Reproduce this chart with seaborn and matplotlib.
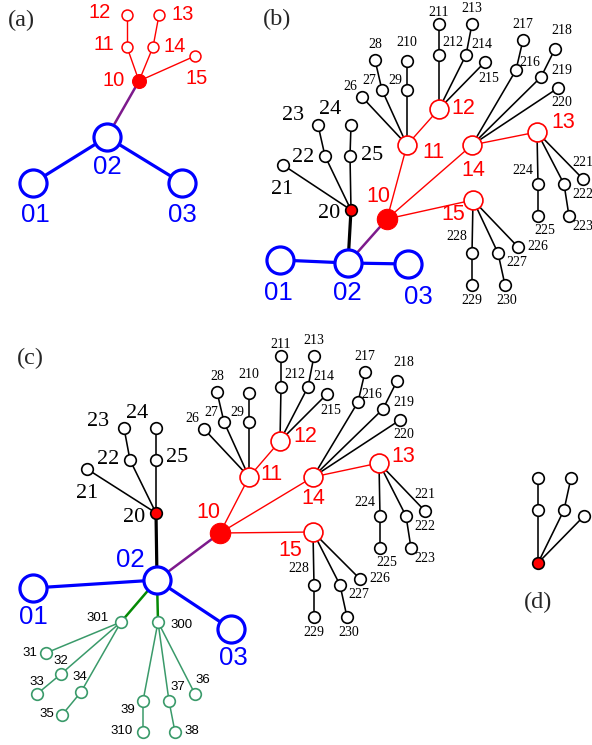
import matplotlib
matplotlib.use("Agg")
import matplotlib.pyplot as plt
import seaborn as sns
from matplotlib.collections import LineCollection

sns.set_style("white")

# --- panel (a) ---
a_names = ['01', '02', '03', '10', '11', '12', '13', '14', '15']
a_x = [33, 107, 182, 139, 127, 127, 159, 153, 195]
a_y = [183, 137, 183, 81, 47, 15, 15, 47, 56]
a_kind = ['blue', 'blue', 'blue', 'red_fill_s', 'red_s', 'red_s', 'red_s', 'red_s', 'red_s']
a_lx = [35, 107, 182, 114, 104, 100, 183, 175, 197]
a_ly = [215, 167, 215, 80, 45, 13, 15, 47, 78]
a_edges = [('01', '02'), ('02', '03'), ('02', '10'), ('10', '11'), ('11', '12'),
           ('10', '14'), ('14', '13'), ('10', '15')]

# --- panel (b) ---
b_names = ['01', '02', '03', '20', '21', '22', '23', '24', '25',
           '10', '11', '12', '13', '14', '15',
           '26', '27', '28', '29', '210', '211', '212', '213', '214', '215',
           '216', '217', '218', '219', '220', '221', '222', '223', '224', '225',
           '226', '227', '228', '229', '230']
b_x = [280, 348, 408, 351, 283, 325, 318, 351, 350,
       387, 407, 439, 537, 472, 473,
       362, 382, 375, 407, 407, 439, 439, 472, 466, 485,
       516, 523, 555, 541, 558, 583, 564, 569, 538, 538,
       518, 498, 472, 472, 505]
b_y = [260, 263, 264, 210, 165, 156, 125, 125, 156,
       219, 145, 109, 132, 145, 200,
       97, 90, 60, 90, 61, 24, 55, 24, 55, 62,
       70, 40, 49, 77, 88, 179, 184, 216, 184, 216,
       247, 253, 253, 285, 285]
b_kind = ['blue', 'blue', 'blue', 'red_black', 'black', 'black', 'black', 'black', 'black',
          'red_fill', 'red', 'red', 'red', 'red', 'red'] + ['black'] * 25
b_lx = [278, 347, 418, 329, 282, 303, 293, 330, 372,
        378, 433, 463, 563, 473, 453,
        350, 369, 375, 395, 407, 439, 453, 472, 482, 489,
        530, 523, 562, 562, 562, 583, 583, 583, 523, 545,
        538, 517, 457, 472, 507]
b_ly = [293, 293, 297, 213, 189, 157, 115, 110, 156,
        197, 153, 109, 123, 170, 215,
        86, 80, 44, 80, 43, 12, 42, 8, 45, 78,
        62, 24, 31, 70, 102, 162, 195, 227, 171, 230,
        246, 263, 236, 300, 300]
tree_edges = [('20', '21'), ('20', '22'), ('22', '23'), ('20', '25'), ('25', '24'),
              ('10', '11'), ('10', '14'), ('10', '15'), ('11', '12'), ('14', '13'),
              ('11', '26'), ('11', '27'), ('27', '28'), ('11', '29'), ('29', '210'),
              ('12', '212'), ('212', '211'), ('12', '214'), ('214', '213'), ('12', '215'),
              ('14', '216'), ('216', '217'), ('14', '219'), ('219', '218'), ('14', '220'),
              ('13', '221'), ('13', '222'), ('222', '223'), ('13', '224'), ('224', '225'),
              ('15', '226'), ('15', '227'), ('227', '230'), ('15', '228'), ('228', '229')]
b_edges = [('01', '02'), ('02', '03'), ('02', '20'), ('02', '10')] + tree_edges

# --- panel (c) ---
c_names = b_names + ['301', '300', '31', '32', '33', '34', '35',
                     '36', '37', '38', '39', '310']
c_x = [33, 157, 231, 156, 87, 130, 124, 156, 156,
       220, 249, 280, 379, 313, 313,
       204, 224, 217, 249, 249, 281, 281, 314, 308, 327,
       358, 365, 397, 383, 400, 425, 406, 411, 380, 380,
       360, 340, 314, 314, 347,
       121, 158, 46, 61, 37, 81, 62, 195, 169, 175, 143, 143]
c_y = [588, 580, 629, 513, 469, 460, 428, 428, 460,
       533, 477, 441, 463, 477, 532,
       429, 422, 392, 422, 393, 356, 387, 356, 387, 394,
       402, 372, 381, 409, 420, 511, 516, 548, 516, 548,
       579, 585, 585, 617, 617,
       622, 622, 653, 674, 694, 692, 715, 694, 701, 732, 701, 732]
c_kind = b_kind + ['green'] * 12
c_lx = [33, 130, 233, 134, 87, 108, 98, 137, 177,
        208, 271, 305, 403, 313, 290,
        192, 211, 217, 237, 249, 281, 295, 314, 324, 331,
        372, 365, 404, 404, 404, 425, 425, 425, 365, 387,
        380, 359, 299, 314, 349,
        98, 182, 30, 61, 37, 80, 47, 203, 178, 192, 128, 122]
c_ly = [617, 560, 658, 518, 493, 460, 421, 413, 458,
        513, 474, 437, 457, 499, 550,
        418, 412, 376, 412, 375, 344, 374, 340, 377, 410,
        394, 356, 363, 402, 434, 494, 527, 559, 503, 562,
        578, 595, 568, 632, 632,
        618, 625, 653, 661, 682, 677, 714, 680, 687, 731, 710, 731]
c_edges = b_edges + [('02', '301'), ('02', '300'),
                     ('301', '31'), ('301', '32'), ('32', '33'), ('301', '34'), ('34', '35'),
                     ('300', '39'), ('39', '310'), ('300', '37'), ('37', '38'), ('300', '36')]

# --- panel (d) ---
d_names = ['d0', 'd1', 'd2', 'd3', 'd4', 'd5']
d_x = [538, 538, 564, 584, 538, 571]
d_y = [563, 510, 510, 516, 478, 478]
d_kind = ['red_black', 'black', 'black', 'black', 'black', 'black']
d_edges = [('d0', 'd1'), ('d0', 'd2'), ('d0', 'd3'), ('d1', 'd4'), ('d2', 'd5')]

panel_tags = ['(a)', '(b)', '(c)', '(d)']
tag_x = [21, 277, 30, 538]
tag_y = [20, 19, 358, 602]

BLUE, RED, PURPLE = '#0000ff', '#ff0000', '#7d1a8c'
DKGREEN, GREEN = '#058a05', '#3a9a6a'
SANS, SERIF = 'Liberation Sans', 'Liberation Serif'

node_style = {
    'blue': dict(s=380, fc='white', ec=BLUE, lw=2.3),
    'red_fill': dict(s=215, fc=RED, ec=RED, lw=0.8),
    'red': dict(s=185, fc='white', ec=RED, lw=1.2),
    'red_fill_s': dict(s=100, fc=RED, ec=RED, lw=0.8),
    'red_s': dict(s=62, fc='white', ec=RED, lw=1.1),
    'black': dict(s=70, fc='white', ec='black', lw=1.2),
    'red_black': dict(s=70, fc=RED, ec='black', lw=1.2),
    'green': dict(s=70, fc='white', ec=GREEN, lw=1.2),
}


def edge_style(k1, k2, n1, n2):
    pair = {n1, n2}
    if k1 == 'blue' and k2 == 'blue':
        return BLUE, 2.3
    if pair == {'02', '10'}:
        return PURPLE, 1.8
    if pair == {'02', '20'}:
        return 'black', 2.3
    if pair in ({'02', '301'}, {'02', '300'}):
        return DKGREEN, 1.8
    if k1 == 'green' or k2 == 'green':
        return GREEN, 1.1
    if k1.startswith('red') and k2.startswith('red') and '20' not in pair:
        return RED, 1.0
    return 'black', 1.15


def label_style(name, kind, small_red):
    if kind == 'blue':
        return dict(color=BLUE, family=SANS, size=18.5)
    if kind == 'green':
        return dict(color='black', family=SANS, size=9.5)
    if name in ('20', '21', '22', '23', '24', '25'):
        return dict(color='black', family=SERIF, size=16)
    if kind.startswith('red'):
        return dict(color=RED, family=SANS, size=14.5 if small_red else 15.5)
    return dict(color='black', family=SERIF, size=10)


def draw_panel(ax, names, xs, ys, kinds, edges, lx=None, ly=None, small_red=False):
    pos = {n: (x, y) for n, x, y in zip(names, xs, ys)}
    kind = dict(zip(names, kinds))
    segs, cols, lws = [], [], []
    for n1, n2 in edges:
        c, w = edge_style(kind[n1], kind[n2], n1, n2)
        segs.append([pos[n1], pos[n2]])
        cols.append(c)
        lws.append(w)
    ax.add_collection(LineCollection(segs, colors=cols, linewidths=lws, zorder=1))
    for k, st in node_style.items():
        idx = [i for i, kk in enumerate(kinds) if kk == k]
        if not idx:
            continue
        sns.scatterplot(x=[xs[i] for i in idx], y=[ys[i] for i in idx], ax=ax,
                        s=st['s'], color=st['fc'], edgecolor=st['ec'],
                        linewidth=st['lw'], zorder=3, legend=False)
    if lx is not None:
        for n, k, tx, ty in zip(names, kinds, lx, ly):
            ax.text(tx, ty, n, ha='center', va='center', zorder=4,
                    **label_style(n, k, small_red))


fig = plt.figure(figsize=(5.92, 7.45), dpi=100)
ax = fig.add_axes([0, 0, 1, 1])
ax.set_xlim(0, 592)
ax.set_ylim(745, 0)
ax.axis('off')

draw_panel(ax, a_names, a_x, a_y, a_kind, a_edges, a_lx, a_ly, small_red=True)
draw_panel(ax, b_names, b_x, b_y, b_kind, b_edges, b_lx, b_ly)
draw_panel(ax, c_names, c_x, c_y, c_kind, c_edges, c_lx, c_ly)
draw_panel(ax, d_names, d_x, d_y, d_kind, d_edges)

for t, tx, ty in zip(panel_tags, tag_x, tag_y):
    ax.text(tx, ty, t, ha='center', va='center', family=SERIF, size=17.5)

fig.savefig('out.png', dpi=100)
